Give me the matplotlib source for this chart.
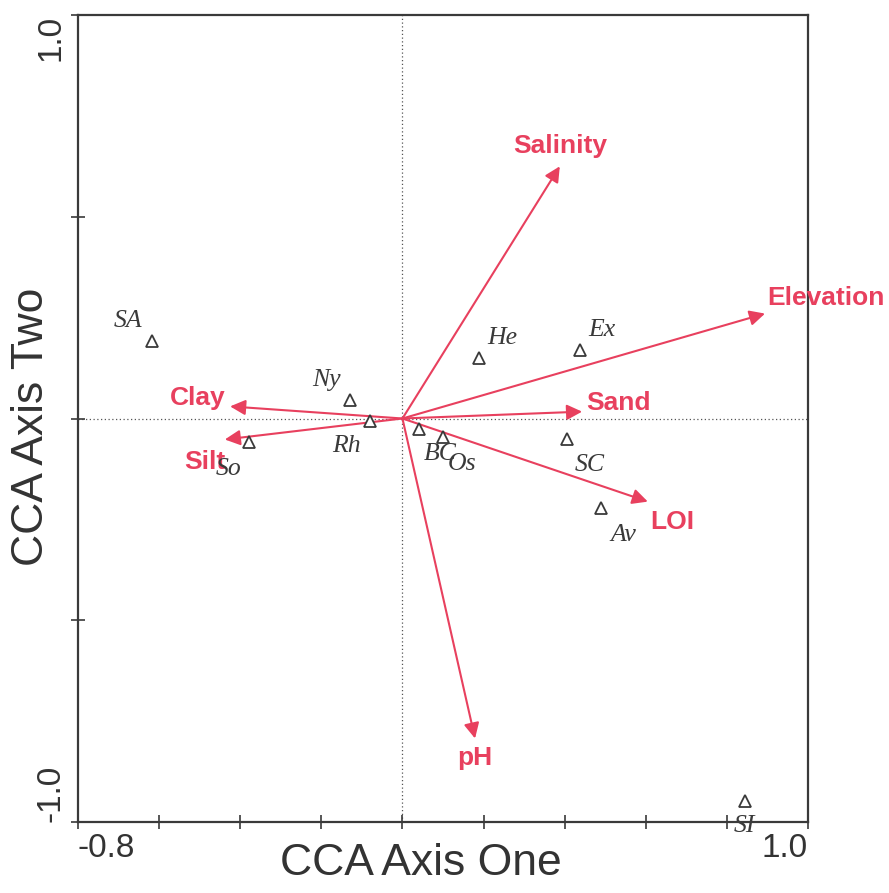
import matplotlib
matplotlib.use("Agg")
import matplotlib.pyplot as plt

# Species scores
species = ["SA", "Ny", "Rh", "So", "He", "Ex", "BC", "Os", "SC", "Av", "SI"]
sp_x = [-0.618, -0.129, -0.080, -0.378, 0.189, 0.438, 0.041, 0.100, 0.406, 0.489, 0.844]
sp_y = [0.191, 0.047, -0.007, -0.059, 0.151, 0.169, -0.025, -0.045, -0.052, -0.223, -0.949]
# label offsets in pixels (dx right, dy up)
sp_off = [(-24, 20), (-24, 20), (-24, -25), (-21, -27), (23, 20), (22, 20),
          (21, -25), (19, -27), (23, -26), (23, -27), (0, -25)]

# Environmental vectors
env = ["Salinity", "Elevation", "Sand", "LOI", "pH", "Clay", "Silt"]
env_x = [0.388, 0.894, 0.443, 0.605, 0.179, -0.425, -0.438]
env_y = [0.625, 0.260, 0.017, -0.206, -0.793, 0.030, -0.052]
env_off = [(0, 20), (2, 16), (4, 9), (2, -20), (0, -20), (-5, 8), (-20, -23)]
env_ha = ["center", "left", "left", "left", "center", "right", "center"]

xticks = [-0.8, -0.6, -0.4, -0.2, 0.0, 0.2, 0.4, 0.6, 0.8, 1.0]
xticklabels = ["-0.8", "", "", "", "", "", "", "", "", "1.0"]
yticks = [-1.0, -0.5, 0.0, 0.5, 1.0]
yticklabels = ["-1.0", "", "", "", "1.0"]

arrow_col = "#E8405E"
dark = "#3a3a3a"
px = 0.72  # px -> pt at dpi 100

fig = plt.figure(figsize=(8.89, 8.93), dpi=100)
ax = fig.add_axes([78 / 889, 71 / 893, 730 / 889, 807 / 893])
ax.set_xlim(-0.8, 1.0)
ax.set_ylim(-1.0, 1.0)

ax.axhline(0, color="#555555", lw=0.9, ls=(0, (1, 2)), zorder=1)
ax.axvline(0, color="#555555", lw=0.9, ls=(0, (1, 2)), zorder=1)

for name, x, y, (dx, dy), ha in zip(env, env_x, env_y, env_off, env_ha):
    ax.annotate("", xy=(x, y), xytext=(0, 0),
                arrowprops=dict(arrowstyle="-|>", color=arrow_col, lw=1.5,
                                mutation_scale=23, shrinkA=0, shrinkB=0),
                zorder=3)
    ax.annotate(name, xy=(x, y), xytext=(dx * px, dy * px), textcoords="offset points",
                ha=ha, va="center", color=arrow_col, fontsize=19, fontweight="bold",
                family="Liberation Sans", zorder=4)

ax.plot(sp_x, sp_y, linestyle="none", marker="^", markersize=8, markerfacecolor="white",
        markeredgecolor=dark, markeredgewidth=1.3, zorder=5)
for name, x, y, (dx, dy) in zip(species, sp_x, sp_y, sp_off):
    ax.annotate(name, xy=(x, y), xytext=(dx * px, dy * px), textcoords="offset points",
                ha="center", va="center", color=dark, fontsize=18.5, fontstyle="italic",
                family="Liberation Serif", zorder=6)

ax.set_xticks(xticks)
ax.set_xticklabels(xticklabels)
ax.set_yticks(yticks)
ax.set_yticklabels(yticklabels, rotation=90)
ax.tick_params(direction="inout", length=10, width=1.2, colors=dark, labelsize=24,
               labelcolor="#333333", pad=3)
xl = ax.get_xticklabels()
xl[0].set_ha("left")
xl[-1].set_ha("right")
yl = ax.get_yticklabels()
yl[0].set_va("bottom")
yl[-1].set_va("top")
for lab in xl + yl:
    lab.set_family("Liberation Sans")

for s in ax.spines.values():
    s.set_linewidth(1.6)
    s.set_color(dark)

ax.set_xlabel("CCA Axis One", fontsize=32, family="Liberation Sans", color="#333333")
ax.xaxis.set_label_coords(0.47, -0.026)
ax.set_ylabel("CCA Axis Two", fontsize=32, family="Liberation Sans", color="#333333")
ax.yaxis.set_label_coords(-0.036, 0.49)

fig.savefig("out.png", dpi=100)
